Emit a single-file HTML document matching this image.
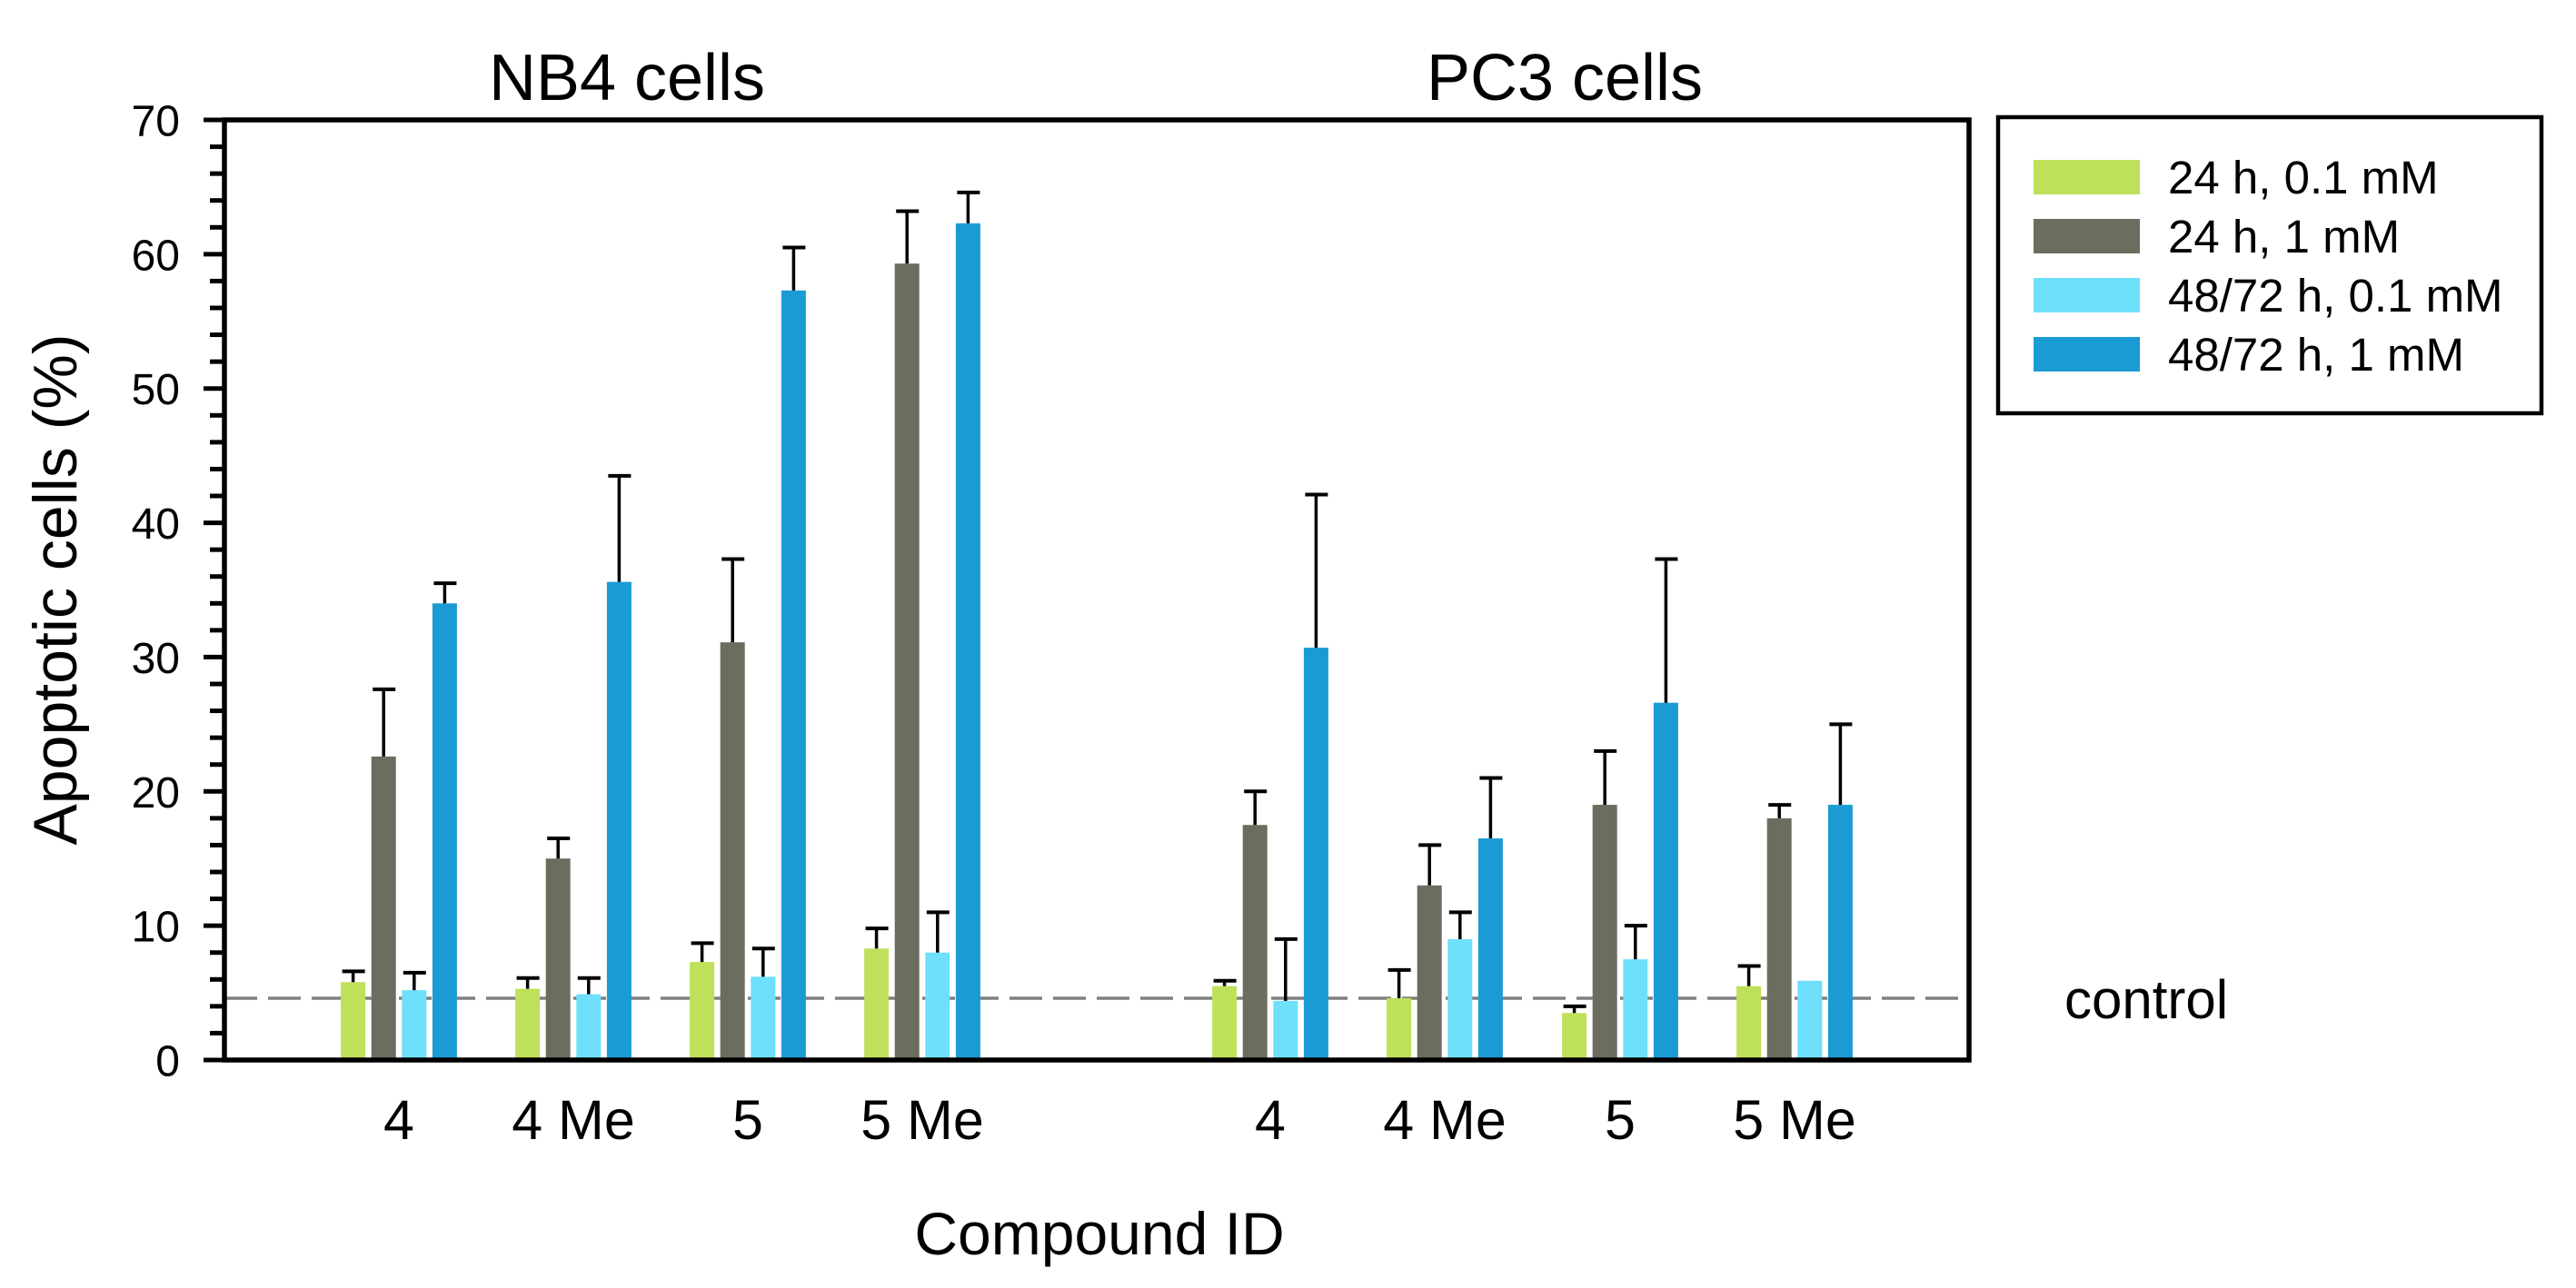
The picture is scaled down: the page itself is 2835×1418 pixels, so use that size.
<!DOCTYPE html>
<html><head><meta charset="utf-8"><style>
html,body{margin:0;padding:0;background:#fff;}
svg{display:block;font-family:"Liberation Sans",Arial,sans-serif;}
</style></head><body>
<svg id="chart" width="2835" height="1418" viewBox="0 0 2835 1418" xmlns="http://www.w3.org/2000/svg">
<g id="plot"></g>
</svg>
<script>
const categories = ["4","4 Me","5","5 Me","4","4 Me","5","5 Me"];
const panels = ["NB4 cells","PC3 cells"];
const seriesNames = ["24 h, 0.1 mM","24 h, 1 mM","48/72 h, 0.1 mM","48/72 h, 1 mM"];
const s1 = [5.8,5.3,7.3,8.3,5.5,4.6,3.5,5.5];
const s2 = [22.6,15.0,31.1,59.3,17.5,13.0,19.0,18.0];
const s3 = [5.2,4.9,6.2,8.0,4.4,9.0,7.5,5.9];
const s4 = [34.0,35.6,57.3,62.3,30.7,16.5,26.6,19.0];
const e1 = [6.6,6.1,8.7,9.8,5.9,6.7,4.0,7.0];
const e2 = [27.6,16.5,37.3,63.2,20.0,16.0,23.0,19.0];
const e3 = [6.5,6.1,8.3,11.0,9.0,11.0,10.0,5.9];
const e4 = [35.5,43.5,60.5,64.6,42.1,21.0,37.3,25.0];
const controlValue = 4.6;
const yTicks = [0,10,20,30,40,50,60,70];

const NS="http://www.w3.org/2000/svg";
const svg=document.getElementById('plot');
const colors=["#bfe05a","#6b6d5e","#6ee0fb","#1a9bd4"];
const X0=247,X1=2167,Y0=1167,Ytop=132;
function y(v){return Y0-(v/70)*(Y0-Ytop);}
const groupCenters=[439,631,823,1015,1398,1590,1783,1975];
function gx(i){return groupCenters[i];}
const pitch=33.6,bw=27;
function mk(tag,attrs){const e=document.createElementNS(NS,tag);for(const k in attrs)e.setAttribute(k,attrs[k]);svg.appendChild(e);return e;}

let d=mk('line',{x1:X0,x2:X1,y1:y(controlValue),y2:y(controlValue),stroke:'#808080','stroke-width':3.5,'stroke-dasharray':'36 12'});



const S=[s1,s2,s3,s4],E=[e1,e2,e3,e4];
for(let i=0;i<categories.length;i++){
  for(let k=0;k<4;k++){
    const cx=gx(i)+(k-1.5)*pitch;
    const r=mk('rect',{x:cx-bw/2,y:y(S[k][i]),width:bw,height:Y0-y(S[k][i]),fill:colors[k]});
    
    
    if(E[k][i]>S[k][i]+0.05){
      const l=mk('line',{x1:cx,x2:cx,y1:y(S[k][i]),y2:y(E[k][i]),stroke:'#000','stroke-width':3.5});
      
      
      const c=mk('line',{x1:cx-12,x2:cx+13,y1:y(E[k][i]),y2:y(E[k][i]),stroke:'#000','stroke-width':4});
      
      
    }
  }
  const t=mk('text',{x:gx(i),y:1254,'font-size':61,'text-anchor':'middle',fill:'#000'});
  t.textContent=categories[i];
  
  
}
let fr=mk('rect',{x:X0,y:Ytop,width:X1-X0,height:Y0-Ytop,fill:'none',stroke:'#000','stroke-width':5.5});


for(let v=0;v<=70;v+=2){
  const major=v%10===0;
  const tk=mk('line',{x1:major?224:231,x2:X0,y1:y(v),y2:y(v),stroke:'#000','stroke-width':5});
  
  
}
for(const v of yTicks){
  const t=mk('text',{x:198,y:y(v)+17.5,'font-size':48,'text-anchor':'end',fill:'#000'});
  t.textContent=v;
  
  
}
const titleX=[690,1722];
panels.forEach((p,i)=>{
  const t=mk('text',{x:titleX[i],y:110,'font-size':72,'text-anchor':'middle',fill:'#000'});
  t.textContent=p;
  
  
});
let yt=mk('text',{x:0,y:0,'font-size':68,'text-anchor':'middle',fill:'#000',transform:'translate(84,649) rotate(-90)','xml:space':'preserve'});
yt.textContent='Apoptotic cells  (%)';


let xt=mk('text',{x:1210,y:1381,'font-size':66,'text-anchor':'middle',fill:'#000'});
xt.textContent='Compound ID';


let ct=mk('text',{x:2272,y:1121,'font-size':60,fill:'#000'});
ct.textContent='control';


let lb=mk('rect',{x:2199,y:129,width:598,height:326,fill:'#fff',stroke:'#000','stroke-width':4.5});


seriesNames.forEach((n,k)=>{
  const sw=mk('rect',{x:2238,y:176+k*65,width:117,height:38,fill:colors[k]});
  
  
  const t=mk('text',{x:2386,y:213+k*65,'font-size':51,fill:'#000'});
  t.textContent=n;
  
  
});
</script>
</body></html>
